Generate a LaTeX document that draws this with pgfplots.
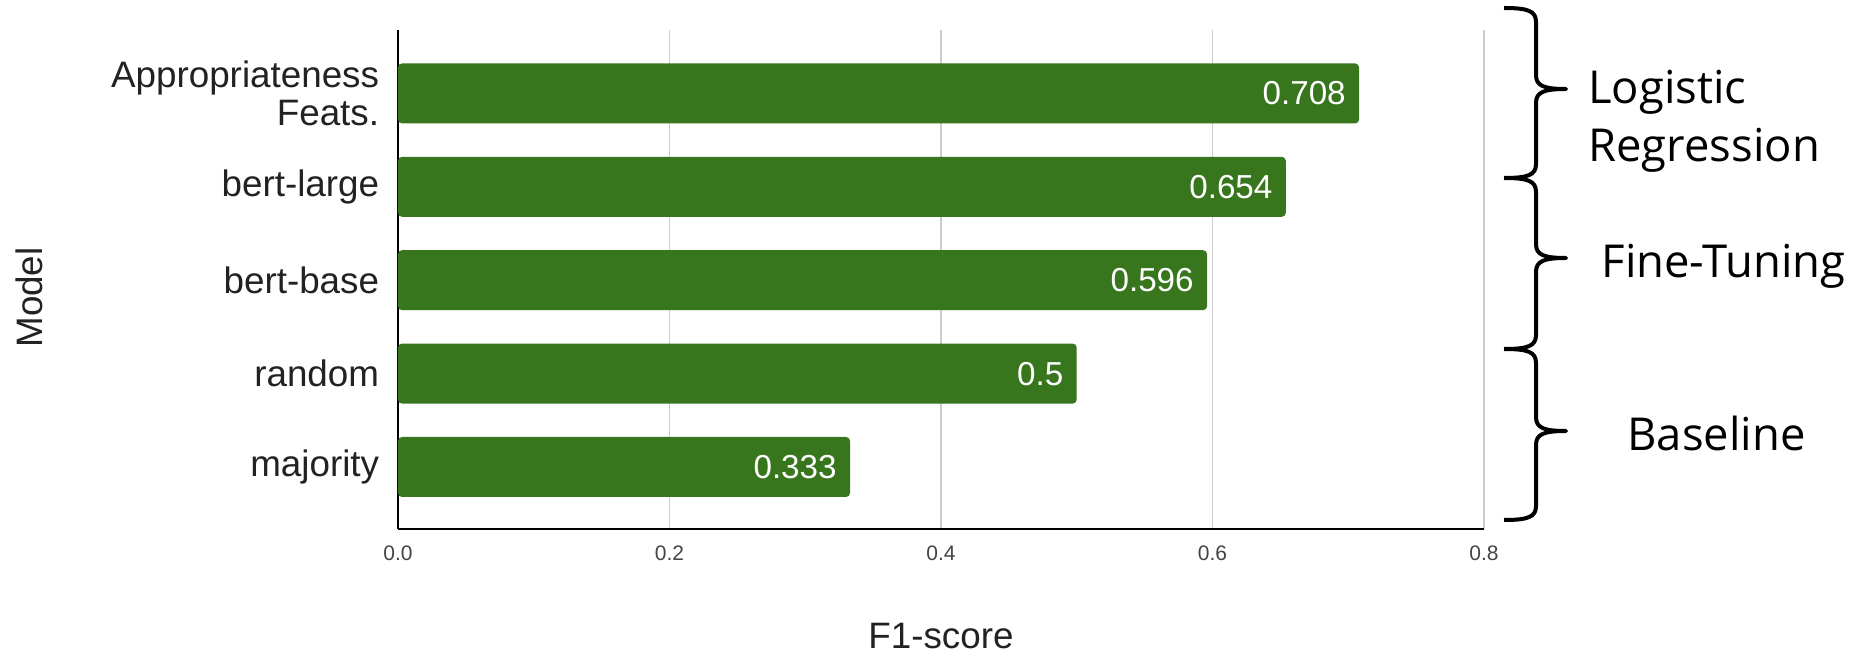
\documentclass[border=0pt]{standalone}
\usepackage{fontspec}
\setmainfont{Liberation Sans}
\newfontfamily\opensans{Open Sans}
\usepackage{pgfplots}
\usepackage{pgfplotstable}
\pgfplotsset{compat=1.18}
\definecolor{barcol}{HTML}{38761D}
\definecolor{gridcol}{HTML}{CCCCCC}
\definecolor{tickcol}{HTML}{444444}
\definecolor{labcol}{HTML}{222222}

\pgfplotstableread{
y x label
0 0.333 0.333
1 0.5 0.5
2 0.596 0.596
3 0.654 0.654
4 0.708 0.708
}\datatable

\newcommand{\groupbrace}[3]{%
\draw[line width=2pt, line cap=butt, line join=round]
  (553pt,#1) .. controls (565pt,#1) and (569pt,#1-1.5pt) .. (569pt,#1-7pt)
  -- (569pt,#2+7pt) .. controls (569pt,#2+1.5pt) and (573pt,#2) .. (584pt,#2)
  .. controls (573pt,#2) and (569pt,#2-1.5pt) .. (569pt,#2-7pt)
  -- (569pt,#3+7pt) .. controls (569pt,#3+1.5pt) and (565pt,#3) .. (553pt,#3);}

\begin{document}
\begin{tikzpicture}
\begin{axis}[
  at={(0pt,0pt)}, anchor=south west,
  scale only axis,
  width=543pt, height=249.5pt,
  xmin=0, xmax=0.8,
  ymin=-0.664, ymax=4.679,
  axis x line*=bottom, axis y line*=left,
  axis line style={black, line width=0.9pt, -},
  xtick={0,0.2,0.4,0.6,0.8},
  xticklabels={0.0,0.2,0.4,0.6,0.8},
  ytick={0,1,2,3,4},
  yticklabels={majority,random,bert-base,bert-large,{Appropriateness\\Feats.}},
  major tick length=0pt,
  xmajorgrids,
  major grid style={draw=gridcol, line width=0.8pt},
  xticklabel style={font=\fontsize{10.5}{12}\selectfont, text=tickcol, inner sep=0pt, anchor=north, yshift=-8.25pt},
  yticklabel style={font=\fontsize{18.4}{18.8}\selectfont, text=labcol, inner sep=0pt, anchor=east, align=right, xshift=-9.25pt},
  xlabel={F1-score},
  xlabel style={font=\fontsize{18.4}{20}\selectfont, text=labcol, at={(axis description cs:0.5,0)}, anchor=base, yshift=-59.5pt},
  ylabel={Model},
  ylabel style={font=\fontsize{18.4}{20}\selectfont, text=labcol, at={(axis description cs:-0.3274,0.4639)}, anchor=base, rotate=0},
  clip=false,
]
\addplot[xbar, fill=barcol, draw=none, bar width=30pt, rounded corners=2pt,
  point meta=explicit symbolic, nodes near coords,
  every node near coord/.append style={anchor=east, text=white, inner sep=0pt, xshift=-6.5pt, font=\fontsize{16.6}{18}\selectfont, rounded corners=0pt}]
  table[x=x, y=y, meta=label] {\datatable};
\end{axis}
\groupbrace{260.5pt}{220pt}{175.5pt}
\groupbrace{175.5pt}{135.5pt}{90pt}
\groupbrace{90pt}{49pt}{4.5pt}
\node[anchor=base west, inner sep=0pt, font=\opensans\fontsize{22.7}{28}\selectfont] at (595pt,212.5pt) {Logistic};
\node[anchor=base west, inner sep=0pt, font=\opensans\fontsize{22.7}{28}\selectfont] at (595pt,183.5pt) {Regression};
\node[anchor=base, inner sep=0pt, font=\opensans\fontsize{22.7}{28}\selectfont] at (662.75pt,125.5pt) {Fine-Tuning};
\node[anchor=base, inner sep=0pt, font=\opensans\fontsize{22.7}{28}\selectfont] at (659.25pt,39pt) {Baseline};
\pgfresetboundingbox
\path[use as bounding box] (-199pt,-62pt) rectangle (733pt,264.5pt);
\end{tikzpicture}
\end{document}
